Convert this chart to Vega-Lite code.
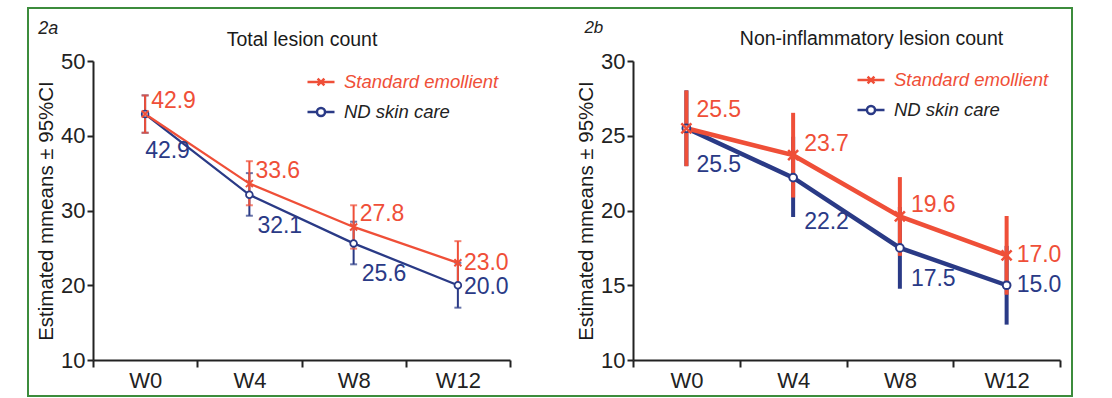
{
  "$schema": "https://vega.github.io/schema/vega-lite/v6.json",
  "width": 1044,
  "height": 388,
  "autosize": {"type": "none"},
  "padding": {"left": 28, "top": 8, "right": 40, "bottom": 2},
  "background": "white",
  "config": {
    "view": {"stroke": "#3c8c3c", "strokeWidth": 2},
    "font": "Liberation Sans, Arial, sans-serif",
    "axis": {
      "grid": false,
      "domainColor": "#222222",
      "domainWidth": 2,
      "tickColor": "#222222",
      "tickWidth": 2,
      "labelFontSize": 22,
      "labelColor": "#222222",
      "titleFontSize": 20.5,
      "titleFontWeight": "normal",
      "titleColor": "#1a1a1a"
    },
    "legend": {
      "orient": "none",
      "padding": 0,
      "labelFontSize": 18.5,
      "labelFontStyle": "italic",
      "labelLimit": 400,
      "symbolStrokeWidth": 2.5,
      "symbolSize": 729,
      "rowPadding": 5,
      "labelOffset": 8
    }
  },
  "datasets": {
    "total": [
      {"week": "W0", "group": "ND skin care", "mean": 42.9, "lo": 40.4, "hi": 45.4},
      {"week": "W4", "group": "ND skin care", "mean": 32.1, "lo": 29.3, "hi": 35.0},
      {"week": "W8", "group": "ND skin care", "mean": 25.6, "lo": 22.8, "hi": 28.5},
      {"week": "W12", "group": "ND skin care", "mean": 20.0, "lo": 17.0, "hi": 23.0},
      {"week": "W0", "group": "Standard emollient", "mean": 42.9, "lo": 40.4, "hi": 45.4},
      {"week": "W4", "group": "Standard emollient", "mean": 33.6, "lo": 30.7, "hi": 36.6},
      {"week": "W8", "group": "Standard emollient", "mean": 27.8, "lo": 24.9, "hi": 30.7},
      {"week": "W12", "group": "Standard emollient", "mean": 23.0, "lo": 20.1, "hi": 25.9}
    ],
    "noninf": [
      {"week": "W0", "group": "ND skin care", "mean": 25.5, "lo": 23.1, "hi": 27.9},
      {"week": "W4", "group": "ND skin care", "mean": 22.2, "lo": 19.7, "hi": 24.8},
      {"week": "W8", "group": "ND skin care", "mean": 17.5, "lo": 14.9, "hi": 20.1},
      {"week": "W12", "group": "ND skin care", "mean": 15.0, "lo": 12.5, "hi": 17.5},
      {"week": "W0", "group": "Standard emollient", "mean": 25.5, "lo": 23.1, "hi": 27.9},
      {"week": "W4", "group": "Standard emollient", "mean": 23.7, "lo": 21.0, "hi": 26.4},
      {"week": "W8", "group": "Standard emollient", "mean": 19.6, "lo": 17.1, "hi": 22.1},
      {"week": "W12", "group": "Standard emollient", "mean": 17.0, "lo": 14.5, "hi": 19.5}
    ],
    "tagA": [{"label": "2a"}],
    "tagB": [{"label": "2b"}]
  },
  "layer": [
    {
      "data": {"name": "total"},
      "encoding": {
        "x": {
          "field": "week", "type": "ordinal", "sort": ["W0", "W4", "W8", "W12"],
          "scale": {"type": "band", "range": [65, 482], "paddingInner": 0, "paddingOuter": 0},
          "axis": {
            "orient": "bottom", "offset": -36, "labelAngle": 0, "tickBand": "extent", "tickSize": 7, "labelPadding": 3,
            "title": "Total lesion count", "titleY": -315, "titleBaseline": "alphabetic", "titleFontSize": 19.5
          }
        }
      },
      "layer": [
        {
          "transform": [{"filter": "datum.group === 'ND skin care'"}],
          "mark": {"type": "rule", "color": "#2a3a86", "strokeWidth": 2},
          "encoding": {
            "y": {"field": "lo", "type": "quantitative", "scale": {"domain": [10, 50], "range": [352, 53], "nice": false, "zero": false},
              "axis": {"orient": "left", "offset": -65, "values": [10, 20, 30, 40, 50], "tickSize": 6, "labelPadding": 2, "title": "Estimated mmeans ± 95%CI", "titlePadding": 4}},
            "y2": {"field": "hi"}
          }
        },
        {
          "transform": [{"filter": "datum.group === 'ND skin care'"}, {"fold": ["lo", "hi"], "as": ["end", "val"]}],
          "mark": {"type": "tick", "color": "#2a3a86", "size": 7, "thickness": 2},
          "encoding": {"y": {"field": "val", "type": "quantitative"}}
        },
        {
          "transform": [{"filter": "datum.group === 'Standard emollient'"}],
          "mark": {"type": "rule", "color": "#ef4f38", "strokeWidth": 2},
          "encoding": {"y": {"field": "lo", "type": "quantitative"}, "y2": {"field": "hi"}}
        },
        {
          "transform": [{"filter": "datum.group === 'Standard emollient'"}, {"fold": ["lo", "hi"], "as": ["end", "val"]}],
          "mark": {"type": "tick", "color": "#ef4f38", "size": 7, "thickness": 2},
          "encoding": {"y": {"field": "val", "type": "quantitative"}}
        },
        {
          "transform": [{"filter": "datum.group === 'ND skin care'"}],
          "mark": {"type": "line", "strokeWidth": 2.3},
          "encoding": {
            "y": {"field": "mean", "type": "quantitative"},
            "color": {"field": "group", "type": "nominal",
              "scale": {"domain": ["Standard emollient", "ND skin care"], "range": ["#ef4f38", "#2a3a86"]},
              "legend": {"title": null, "legendX": 278, "legendY": 59,
                "labelColor": {"expr": "datum.label === 'Standard emollient' ? '#ef4f38' : '#222222'"},
                "symbolType": {"expr": "datum.value === 'Standard emollient' ? 'M-1,0H1M-0.25,-0.25L0.25,0.25M-0.25,0.25L0.25,-0.25' : 'M-1,0H-0.3M0.3,0H1M-0.3,0A0.3,0.3,0,1,0,0.3,0A0.3,0.3,0,1,0,-0.3,0'"}}
            }
          }
        },
        {
          "transform": [{"filter": "datum.group === 'Standard emollient'"}],
          "mark": {"type": "line", "strokeWidth": 2.3},
          "encoding": {
            "y": {"field": "mean", "type": "quantitative"},
            "color": {"field": "group", "type": "nominal"}
          }
        },
        {
          "transform": [{"filter": "datum.group === 'ND skin care'"}],
          "mark": {"type": "point", "shape": "circle", "filled": true, "fill": "white", "stroke": "#2a3a86", "strokeWidth": 1.8, "size": 45, "opacity": 1},
          "encoding": {"y": {"field": "mean", "type": "quantitative"}}
        },
        {
          "transform": [{"filter": "datum.group === 'Standard emollient'"}],
          "mark": {"type": "point", "shape": "M-1,-1L1,1M-1,1L1,-1", "filled": false, "stroke": "#ef4f38", "strokeWidth": 2, "size": 49, "opacity": 1},
          "encoding": {"y": {"field": "mean", "type": "quantitative"}}
        },
        {
          "transform": [{"filter": "datum.group === 'Standard emollient' && datum.week !== 'W12'"}],
          "mark": {"type": "text", "align": "left", "baseline": "middle", "dx": 6, "dy": -13, "fontSize": 23, "color": "#ef4f38"},
          "encoding": {"y": {"field": "mean", "type": "quantitative"}, "text": {"field": "mean", "type": "quantitative", "format": ".1f"}}
        },
        {
          "transform": [{"filter": "datum.group === 'Standard emollient' && datum.week === 'W12'"}],
          "mark": {"type": "text", "align": "left", "baseline": "middle", "dx": 6, "dy": 0, "fontSize": 23, "color": "#ef4f38"},
          "encoding": {"y": {"field": "mean", "type": "quantitative"}, "text": {"field": "mean", "type": "quantitative", "format": ".1f"}}
        },
        {
          "transform": [{"filter": "datum.group === 'ND skin care' && datum.week === 'W0'"}],
          "mark": {"type": "text", "align": "left", "baseline": "middle", "dx": 0, "dy": 37, "fontSize": 23, "color": "#2a3a86"},
          "encoding": {"y": {"field": "mean", "type": "quantitative"}, "text": {"field": "mean", "type": "quantitative", "format": ".1f"}}
        },
        {
          "transform": [{"filter": "datum.group === 'ND skin care' && (datum.week === 'W4' || datum.week === 'W8')"}],
          "mark": {"type": "text", "align": "left", "baseline": "middle", "dx": 8, "dy": 31, "fontSize": 23, "color": "#2a3a86"},
          "encoding": {"y": {"field": "mean", "type": "quantitative"}, "text": {"field": "mean", "type": "quantitative", "format": ".1f"}}
        },
        {
          "transform": [{"filter": "datum.group === 'ND skin care' && datum.week === 'W12'"}],
          "mark": {"type": "text", "align": "left", "baseline": "middle", "dx": 6, "dy": 2, "fontSize": 23, "color": "#2a3a86"},
          "encoding": {"y": {"field": "mean", "type": "quantitative"}, "text": {"field": "mean", "type": "quantitative", "format": ".1f"}}
        },
        {
          "data": {"name": "tagA"},
          "mark": {"type": "text", "align": "left", "baseline": "alphabetic", "dx": -107, "dy": -27, "fontSize": 18, "fontStyle": "italic", "color": "#222222"},
          "encoding": {"x": {"datum": "W0"}, "y": {"datum": 50}, "text": {"field": "label"}}
        }
      ]
    },
    {
      "data": {"name": "noninf"},
      "encoding": {
        "x": {
          "field": "week", "type": "ordinal", "sort": ["W0", "W4", "W8", "W12"],
          "scale": {"type": "band", "range": [605, 1032], "paddingInner": 0, "paddingOuter": 0},
          "axis": {
            "orient": "bottom", "offset": -36, "labelAngle": 0, "tickBand": "extent", "tickSize": 7, "labelPadding": 3,
            "title": "Non-inflammatory lesion count", "titleX": 843, "titleY": -316, "titleBaseline": "alphabetic", "titleFontSize": 19.5
          }
        }
      },
      "layer": [
        {
          "transform": [{"filter": "datum.group === 'ND skin care'"}],
          "mark": {"type": "rule", "color": "#2a3a86", "strokeWidth": 4, "strokeCap": "square"},
          "encoding": {
            "y": {"field": "lo", "type": "quantitative", "scale": {"domain": [10, 30], "range": [352, 53], "nice": false, "zero": false},
              "axis": {"orient": "left", "offset": -605, "values": [10, 15, 20, 25, 30], "tickSize": 6, "labelPadding": 2, "title": "Estimated mmeans ± 95%CI", "titlePadding": 4}},
            "y2": {"field": "hi"}
          }
        },
        {
          "transform": [{"filter": "datum.group === 'Standard emollient'"}],
          "mark": {"type": "rule", "color": "#ef4f38", "strokeWidth": 4, "strokeCap": "square"},
          "encoding": {"y": {"field": "lo", "type": "quantitative"}, "y2": {"field": "hi"}}
        },
        {
          "transform": [{"filter": "datum.group === 'ND skin care'"}],
          "mark": {"type": "line", "strokeWidth": 4.5},
          "encoding": {
            "y": {"field": "mean", "type": "quantitative"},
            "color": {"field": "group", "type": "nominal",
              "scale": {"domain": ["Standard emollient", "ND skin care"], "range": ["#ef4f38", "#2a3a86"]},
              "legend": {"title": null, "legendX": 828, "legendY": 57,
                "labelColor": {"expr": "datum.label === 'Standard emollient' ? '#ef4f38' : '#222222'"},
                "symbolType": {"expr": "datum.value === 'Standard emollient' ? 'M-1,0H1M-0.25,-0.25L0.25,0.25M-0.25,0.25L0.25,-0.25' : 'M-1,0H-0.3M0.3,0H1M-0.3,0A0.3,0.3,0,1,0,0.3,0A0.3,0.3,0,1,0,-0.3,0'"}}
            }
          }
        },
        {
          "transform": [{"filter": "datum.group === 'Standard emollient'"}],
          "mark": {"type": "line", "strokeWidth": 4.5},
          "encoding": {
            "y": {"field": "mean", "type": "quantitative"},
            "color": {"field": "group", "type": "nominal"}
          }
        },
        {
          "transform": [{"filter": "datum.group === 'ND skin care'"}],
          "mark": {"type": "point", "shape": "circle", "filled": true, "fill": "white", "stroke": "#2a3a86", "strokeWidth": 2, "size": 60, "opacity": 1},
          "encoding": {"y": {"field": "mean", "type": "quantitative"}}
        },
        {
          "transform": [{"filter": "datum.group === 'Standard emollient'"}],
          "mark": {"type": "point", "shape": "M-1,-1L1,1M-1,1L1,-1", "filled": false, "stroke": "#ef4f38", "strokeWidth": 2.5, "size": 100, "opacity": 1},
          "encoding": {"y": {"field": "mean", "type": "quantitative"}}
        },
        {
          "transform": [{"filter": "datum.group === 'Standard emollient' && datum.week === 'W0'"}],
          "mark": {"type": "text", "align": "left", "baseline": "middle", "dx": 10, "dy": -18, "fontSize": 23, "color": "#ef4f38"},
          "encoding": {"y": {"field": "mean", "type": "quantitative"}, "text": {"field": "mean", "type": "quantitative", "format": ".1f"}}
        },
        {
          "transform": [{"filter": "datum.group === 'Standard emollient' && (datum.week === 'W4' || datum.week === 'W8')"}],
          "mark": {"type": "text", "align": "left", "baseline": "middle", "dx": 11, "dy": -11, "fontSize": 23, "color": "#ef4f38"},
          "encoding": {"y": {"field": "mean", "type": "quantitative"}, "text": {"field": "mean", "type": "quantitative", "format": ".1f"}}
        },
        {
          "transform": [{"filter": "datum.group === 'Standard emollient' && datum.week === 'W12'"}],
          "mark": {"type": "text", "align": "left", "baseline": "middle", "dx": 10, "dy": 0, "fontSize": 23, "color": "#ef4f38"},
          "encoding": {"y": {"field": "mean", "type": "quantitative"}, "text": {"field": "mean", "type": "quantitative", "format": ".1f"}}
        },
        {
          "transform": [{"filter": "datum.group === 'ND skin care' && datum.week === 'W0'"}],
          "mark": {"type": "text", "align": "left", "baseline": "middle", "dx": 10, "dy": 37, "fontSize": 23, "color": "#2a3a86"},
          "encoding": {"y": {"field": "mean", "type": "quantitative"}, "text": {"field": "mean", "type": "quantitative", "format": ".1f"}}
        },
        {
          "transform": [{"filter": "datum.group === 'ND skin care' && datum.week === 'W4'"}],
          "mark": {"type": "text", "align": "left", "baseline": "middle", "dx": 11, "dy": 44, "fontSize": 23, "color": "#2a3a86"},
          "encoding": {"y": {"field": "mean", "type": "quantitative"}, "text": {"field": "mean", "type": "quantitative", "format": ".1f"}}
        },
        {
          "transform": [{"filter": "datum.group === 'ND skin care' && datum.week === 'W8'"}],
          "mark": {"type": "text", "align": "left", "baseline": "middle", "dx": 11, "dy": 31, "fontSize": 23, "color": "#2a3a86"},
          "encoding": {"y": {"field": "mean", "type": "quantitative"}, "text": {"field": "mean", "type": "quantitative", "format": ".1f"}}
        },
        {
          "transform": [{"filter": "datum.group === 'ND skin care' && datum.week === 'W12'"}],
          "mark": {"type": "text", "align": "left", "baseline": "middle", "dx": 10, "dy": 0, "fontSize": 23, "color": "#2a3a86"},
          "encoding": {"y": {"field": "mean", "type": "quantitative"}, "text": {"field": "mean", "type": "quantitative", "format": ".1f"}}
        },
        {
          "data": {"name": "tagB"},
          "mark": {"type": "text", "align": "left", "baseline": "alphabetic", "dx": -102, "dy": -28, "fontSize": 17, "fontStyle": "italic", "color": "#222222"},
          "encoding": {"x": {"datum": "W0"}, "y": {"datum": 30}, "text": {"field": "label"}}
        }
      ]
    }
  ],
  "resolve": {
    "scale": {"x": "independent", "y": "independent", "color": "independent"},
    "axis": {"x": "independent", "y": "independent"},
    "legend": {"color": "independent"}
  }
}
